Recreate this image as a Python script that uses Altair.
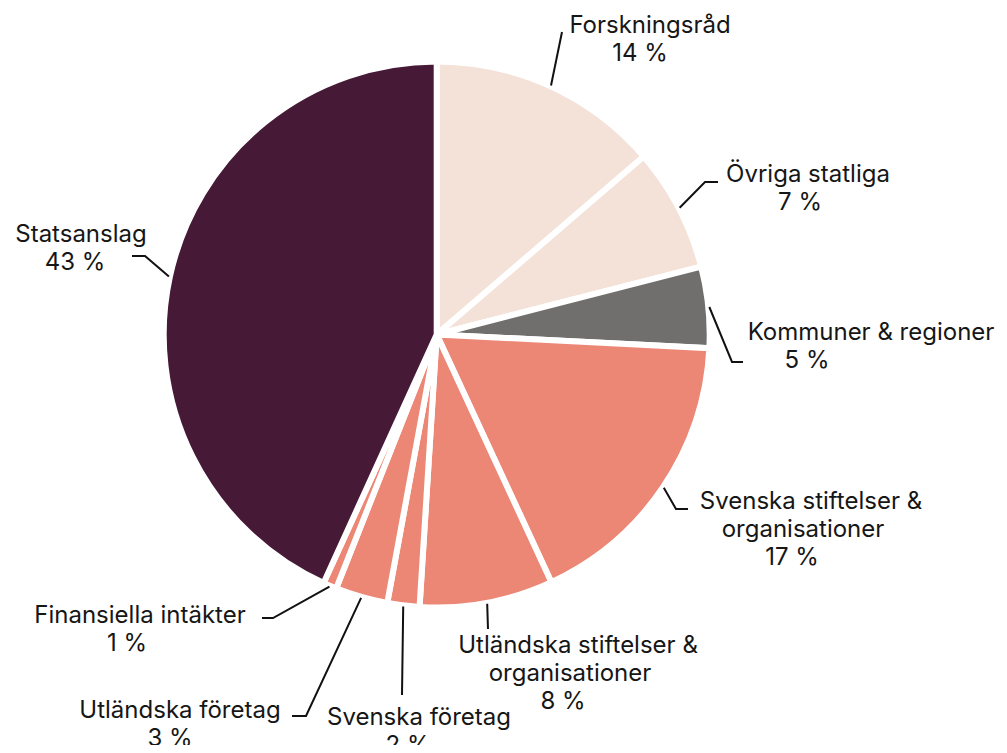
import math
import altair as alt
import pandas as pd

# ---------------- data ----------------
categories = ["Forskningsråd", "Övriga statliga", "Kommuner & regioner",
              "Svenska stiftelser & organisationer", "Utländska stiftelser & organisationer",
              "Svenska företag", "Utländska företag", "Finansiella intäkter", "Statsanslag"]
values = [13.7, 7.3, 4.8, 17.3, 7.9, 1.9, 3.1, 0.8, 43.2]
pct_labels = ["14 %", "7 %", "5 %", "17 %", "8 %", "2 %", "3 %", "1 %", "43 %"]
name_lines = [["Forskningsråd"], ["Övriga statliga"], ["Kommuner & regioner"],
              ["Svenska stiftelser &", "organisationer"],
              ["Utländska stiftelser &", "organisationer"],
              ["Svenska företag"], ["Utländska företag"], ["Finansiella intäkter"],
              ["Statsanslag"]]

# ---------------- styles / layout ----------------
colors = ["#f4e1d7", "#f4e1d7", "#706f6d", "#ec8776", "#ec8776",
          "#ec8776", "#ec8776", "#ec8776", "#461936"]
W, H = 991, 737
OFF = 8
CX, CY, R = 436.7, 334.5, 270
# label line centres (x) and first baseline (y), in page pixels
line_x = [[650, 640], [808, 800], [871, 807], [811, 803, 792], [578, 570, 563],
          [419, 408], [180, 170], [140, 127], [81, 75]]
base_y = [33, 182, 340, 509, 653, 725, 718, 623, 242]
LINE_STEP = 28
elbows = [(562, 32), (705, 182), (732, 362), (676, 509), (488, 629),
          (402, 695), (306, 716), (273, 618), (145, 256)]
ends = [(562, 32), (718, 182), (743, 362), (688, 509), (488, 629),
        (402, 695), (292, 716), (262, 618), (132, 256)]

pie_df = pd.DataFrame({"cat": categories, "value": values, "idx": list(range(len(values)))})

# leader lines
total = sum(values)
rows = []
cum = 0.0
for i, v in enumerate(values):
    mid = (cum + v / 2) / total * 2 * math.pi
    cum += v
    sx = CX + (R + 4) * math.sin(mid)
    sy = CY - (R + 4) * math.cos(mid)
    pts = [(sx, sy), elbows[i], ends[i]]
    for k, (px, py) in enumerate(pts):
        rows.append({"cat": categories[i], "k": k, "px": px, "py": py})
line_df = pd.DataFrame(rows)

# label texts
trows = []
for i in range(len(categories)):
    lines = name_lines[i] + [pct_labels[i]]
    for j, t in enumerate(lines):
        trows.append({"t": t, "px": line_x[i][j], "py": base_y[i] + j * LINE_STEP})
text_df = pd.DataFrame(trows)

xs = alt.Scale(domain=[OFF, OFF + W], range=[0, W])
ys = alt.Scale(domain=[OFF, OFF + H], range=[0, H])

pie = alt.Chart(pie_df).mark_arc(radius=R + 3, stroke="white", strokeWidth=6).encode(
    theta=alt.Theta("value:Q", stack=True),
    order=alt.Order("idx:Q"),
    color=alt.Color("cat:N", scale=alt.Scale(domain=categories, range=colors), legend=None),
    x=alt.value(CX - OFF),
    y=alt.value(CY - OFF),
)

leaders = alt.Chart(line_df).mark_line(color="#111111", strokeWidth=2).encode(
    x=alt.X("px:Q", scale=xs, axis=None),
    y=alt.Y("py:Q", scale=ys, axis=None),
    detail="cat:N",
    order="k:Q",
)

labels = alt.Chart(text_df).mark_text(
    font="Inter", fontSize=24, color="#161616", align="center",
    baseline="alphabetic"
).encode(
    x=alt.X("px:Q", scale=xs, axis=None),
    y=alt.Y("py:Q", scale=ys, axis=None),
    text="t:N",
)

chart = alt.layer(pie, leaders, labels).properties(
    width=W, height=H, autosize=alt.AutoSizeParams(type="none"), padding=0
).configure_view(stroke=None)

chart.save("out.html", embed_options={"renderer": "svg", "actions": False})
